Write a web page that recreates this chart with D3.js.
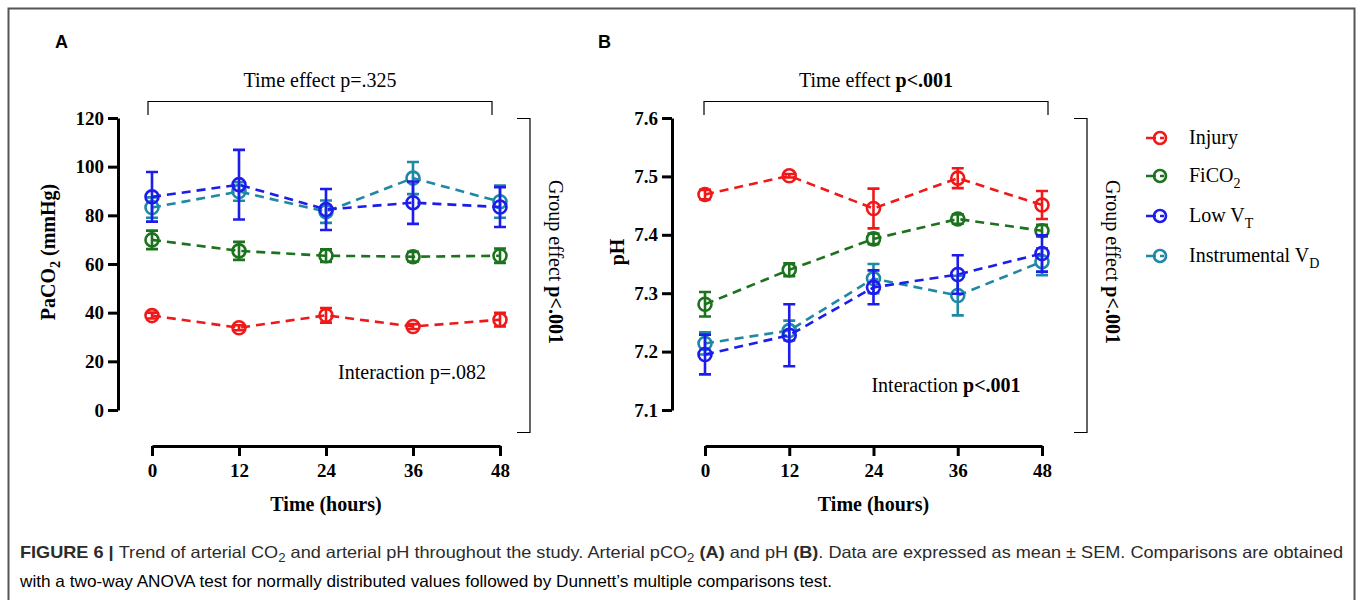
<!DOCTYPE html>
<html>
<head>
<meta charset="utf-8">
<script src="https://cdn.jsdelivr.net/npm/d3@7"></script>
<style>
body { margin: 0; background: #fff; }
svg text { font-family: "Liberation Serif", "Times New Roman", serif; fill: #000; }
</style>
</head>
<body>
<svg id="chart" width="1358" height="600"></svg>
<script>
// data (mean and SEM per time point)
const hours = [0, 12, 24, 36, 48];
const groupNames = ["Injury", "FiCO2", "Low VT", "Instrumental VD"];
const groupColors = ["#f01818", "#1d731d", "#1c1cec", "#1f88a4"];

const paco2Injury = [38.8, 33.8, 38.9, 34.3, 37.1];
const paco2InjuryErr = [1.2, 1.0, 3.0, 1.0, 2.8];
const paco2Fico2 = [69.9, 65.4, 63.4, 63.0, 63.4];
const paco2Fico2Err = [3.8, 3.7, 2.6, 2.0, 3.0];
const paco2LowVt = [87.6, 92.6, 82.4, 85.2, 83.4];
const paco2LowVtErr = [10.2, 14.3, 8.4, 8.7, 8.2];
const paco2Vd = [83.2, 89.8, 81.5, 95.3, 85.6];
const paco2VdErr = [4.2, 3.8, 4.6, 6.6, 6.6];

const phInjury = [7.469, 7.501, 7.445, 7.497, 7.451];
const phInjuryErr = [0.008, 0.003, 0.034, 0.017, 0.024];
const phFico2 = [7.281, 7.340, 7.393, 7.427, 7.407];
const phFico2Err = [0.021, 0.011, 0.009, 0.008, 0.010];
const phLowVt = [7.195, 7.228, 7.310, 7.332, 7.368];
const phLowVtErr = [0.034, 0.053, 0.029, 0.033, 0.031];
const phVd = [7.214, 7.236, 7.325, 7.296, 7.354];
const phVdErr = [0.019, 0.017, 0.025, 0.034, 0.023];

const paco2Ticks = [0, 20, 40, 60, 80, 100, 120];
const phTicks = [7.1, 7.2, 7.3, 7.4, 7.5, 7.6];

const svg = d3.select('#chart');

// figure frame
svg.append('rect')
  .attr('x', 8.5).attr('y', 8.5)
  .attr('width', 1346).attr('height', 620)
  .attr('fill', 'none')
  .attr('stroke', '#555')
  .attr('stroke-width', 2);

function drawPanel(cfg) {
  const x = d3.scaleLinear().domain([0, 48]).range(cfg.xRange);
  const y = d3.scaleLinear().domain(cfg.yDomain).range([410, 118]);
  const g = svg.append('g');

  // panel letter
  g.append('text')
    .attr('x', cfg.letterX).attr('y', 48)
    .style('font-family', '"Liberation Sans", Arial, sans-serif')
    .style('font-weight', 'bold').style('font-size', '18px')
    .text(cfg.letter);

  // y axis
  const yAxis = g.append('g')
    .attr('transform', `translate(${cfg.yAxisX},0)`)
    .call(d3.axisLeft(y).tickValues(cfg.ticks).tickFormat(cfg.tickFormat)
      .tickSize(10).tickSizeOuter(0).tickPadding(4));
  // x axis
  const xAxis = g.append('g')
    .attr('transform', 'translate(0,446)')
    .call(d3.axisBottom(x).tickValues(hours).tickSize(10).tickSizeOuter(0).tickPadding(8));
  [yAxis, xAxis].forEach(a => {
    a.select('.domain').attr('stroke', '#000').attr('stroke-width', 3);
    a.selectAll('.tick line').attr('stroke', '#000').attr('stroke-width', 3);
    a.selectAll('.tick text')
      .style('font-family', '"Liberation Serif", serif')
      .style('font-weight', 'bold').style('font-size', '19px').attr('fill', '#000');
  });

  // axis titles
  g.append('text')
    .attr('x', (cfg.xRange[0] + cfg.xRange[1]) / 2).attr('y', 511)
    .attr('text-anchor', 'middle')
    .style('font-weight', 'bold').style('font-size', '20px')
    .text('Time (hours)');
  const yt = g.append('text')
    .attr('transform', `translate(${cfg.yTitleX},252) rotate(-90)`)
    .attr('text-anchor', 'middle')
    .style('font-weight', 'bold').style('font-size', '20px');
  cfg.yTitle.forEach(p => {
    const t = yt.append('tspan').text(p.t);
    if (p.sub) t.attr('dy', 5).style('font-size', '14px');
    if (p.after) t.attr('dy', -5);
  });

  // time effect bracket
  g.append('path')
    .attr('d', `M${cfg.timeBracket[0]},115V101.5H${cfg.timeBracket[1]}V115`)
    .attr('fill', 'none').attr('stroke', '#000').attr('stroke-width', 1.2);
  const tt = g.append('text')
    .attr('x', (cfg.timeBracket[0] + cfg.timeBracket[1]) / 2).attr('y', 87)
    .attr('text-anchor', 'middle').style('font-size', '20px');
  tt.append('tspan').text('Time effect ');
  tt.append('tspan').text(cfg.timeP).style('font-weight', cfg.timeBold ? 'bold' : 'normal');

  // group effect bracket
  g.append('path')
    .attr('d', `M${cfg.groupBracket - 13},118.5H${cfg.groupBracket}V432.5H${cfg.groupBracket - 13}`)
    .attr('fill', 'none').attr('stroke', '#000').attr('stroke-width', 1.2);
  const gt = g.append('text')
    .attr('transform', `translate(${cfg.groupBracket + 19},262) rotate(90)`)
    .attr('text-anchor', 'middle').style('font-size', '20px');
  gt.append('tspan').text('Group effect ');
  gt.append('tspan').text('p<.001').style('font-weight', 'bold');

  // interaction
  const it = g.append('text')
    .attr('x', cfg.interaction[0]).attr('y', cfg.interaction[1])
    .attr('text-anchor', 'middle').style('font-size', '20px');
  it.append('tspan').text('Interaction ');
  it.append('tspan').text(cfg.interP).style('font-weight', cfg.interBold ? 'bold' : 'normal');

  // series: draw teal before blue so blue sits on top
  const order = [0, 1, 3, 2];
  order.forEach(k => {
    const s = cfg.series[k];
    const color = groupColors[k];
    const pts = hours.map((h, i) => ({ h: h, m: s.mean[i], e: s.err[i] }));
    const sg = g.append('g');
    sg.append('path')
      .datum(pts)
      .attr('d', d3.line().x(d => x(d.h)).y(d => y(d.m)))
      .attr('fill', 'none').attr('stroke', color)
      .attr('stroke-width', 2.6).attr('stroke-dasharray', '9,6');
    const eb = sg.selectAll('.eb').data(pts).enter().append('g');
    eb.append('path')
      .attr('d', d => {
        const cx = x(d.h), y0 = y(d.m - d.e), y1 = y(d.m + d.e);
        return `M${cx},${y0}V${y1}M${cx - 6},${y0}H${cx + 6}M${cx - 6},${y1}H${cx + 6}`;
      })
      .attr('fill', 'none').attr('stroke', color).attr('stroke-width', 2.6);
    sg.selectAll('circle').data(pts).enter().append('circle')
      .attr('cx', d => x(d.h)).attr('cy', d => y(d.m)).attr('r', 6.5)
      .attr('fill', 'none').attr('stroke', color).attr('stroke-width', 2.6);
  });
}

drawPanel({
  letter: 'A', letterX: 55,
  xRange: [152, 500], yDomain: [0, 120], yAxisX: 118,
  ticks: paco2Ticks, tickFormat: d3.format('d'),
  yTitleX: 55,
  yTitle: [{ t: 'PaCO' }, { t: '2', sub: true }, { t: ' (mmHg)', after: true }],
  timeBracket: [148, 492], timeP: 'p=.325', timeBold: false,
  groupBracket: 530,
  interaction: [412, 379], interP: 'p=.082', interBold: false,
  series: [
    { mean: paco2Injury, err: paco2InjuryErr },
    { mean: paco2Fico2, err: paco2Fico2Err },
    { mean: paco2LowVt, err: paco2LowVtErr },
    { mean: paco2Vd, err: paco2VdErr }
  ]
});

drawPanel({
  letter: 'B', letterX: 598,
  xRange: [705, 1042], yDomain: [7.1, 7.6], yAxisX: 672,
  ticks: phTicks, tickFormat: d3.format('.1f'),
  yTitleX: 624,
  yTitle: [{ t: 'pH' }],
  timeBracket: [704, 1048], timeP: 'p<.001', timeBold: true,
  groupBracket: 1087,
  interaction: [946, 392], interP: 'p<.001', interBold: true,
  series: [
    { mean: phInjury, err: phInjuryErr },
    { mean: phFico2, err: phFico2Err },
    { mean: phLowVt, err: phLowVtErr },
    { mean: phVd, err: phVdErr }
  ]
});

// legend
const legendLabels = [['Injury', ''], ['FiCO', '2'], ['Low V', 'T'], ['Instrumental V', 'D']];
const legendY = [138, 176, 216, 256];
const legend = svg.append('g');
groupNames.forEach((name, k) => {
  const ly = legendY[k];
  const c = groupColors[k];
  legend.append('line')
    .attr('x1', 1146).attr('x2', 1176).attr('y1', ly).attr('y2', ly)
    .attr('stroke', c).attr('stroke-width', 2.6).attr('stroke-dasharray', '10,4,4,20');
  legend.append('circle')
    .attr('cx', 1160).attr('cy', ly).attr('r', 6)
    .attr('fill', 'none').attr('stroke', c).attr('stroke-width', 2.6);
  const t = legend.append('text')
    .attr('x', 1189).attr('y', ly + 6).style('font-size', '20px');
  t.append('tspan').text(legendLabels[k][0]);
  if (legendLabels[k][1]) {
    t.append('tspan').text(legendLabels[k][1]).attr('dy', 6).style('font-size', '14px');
  }
});

// caption
const capFont = '"Liberation Sans", Arial, sans-serif';
const cap1 = svg.append('text')
  .attr('x', 20).attr('y', 558)
  .attr('textLength', 1323).attr('lengthAdjust', 'spacingAndGlyphs')
  .style('font-family', capFont).style('font-size', '16.5px');
const cap1Parts = [
  { t: 'FIGURE 6 | ', b: true }, { t: 'Trend of arterial CO' }, { t: '2', sub: true },
  { t: ' and arterial pH throughout the study. Arterial pCO', up: true }, { t: '2', sub: true },
  { t: ' ', up: true }, { t: '(A)', b: true }, { t: ' and pH ' }, { t: '(B)', b: true },
  { t: '. Data are expressed as mean \u00b1 SEM. Comparisons are obtained' }
];
cap1Parts.forEach(p => {
  const s = cap1.append('tspan').text(p.t).attr('fill', '#2b2b2b');
  if (p.b) s.style('font-weight', 'bold');
  if (p.sub) s.attr('dy', 4).style('font-size', '12px');
  if (p.up) s.attr('dy', -4);
});
svg.append('text')
  .attr('x', 20).attr('y', 587)
  .attr('textLength', 812).attr('lengthAdjust', 'spacingAndGlyphs')
  .style('font-family', capFont).style('font-size', '16.5px').attr('fill', '#2b2b2b')
  .text('with a two-way ANOVA test for normally distributed values followed by Dunnett\u2019s multiple comparisons test.');
</script>
</body>
</html>
